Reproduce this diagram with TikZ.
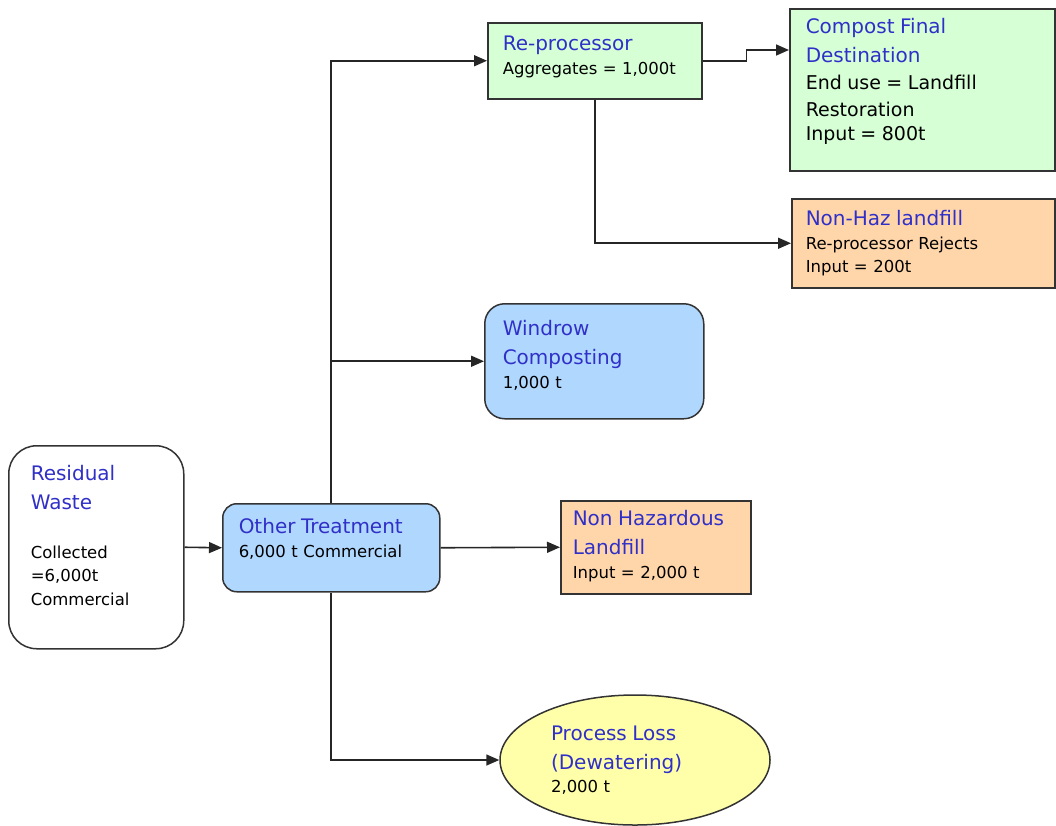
\documentclass[tikz,border=0pt]{standalone}
\usepackage{fontspec}
\setmainfont{DejaVu Sans}
\usetikzlibrary{shapes.geometric, arrows.meta, positioning, calc}
\definecolor{ttlblue}{RGB}{48,48,200}
\definecolor{boxgreen}{RGB}{214,255,214}
\definecolor{boxblue}{RGB}{176,216,255}
\definecolor{boxpeach}{RGB}{255,214,170}
\definecolor{boxyellow}{RGB}{255,255,170}
\newcommand{\ttl}[1]{{\fontsize{20}{29}\selectfont\leavevmode\color{ttlblue}#1\par}}
\newcommand{\bigbody}{\fontsize{19}{27}\selectfont}

\begin{document}
\begin{tikzpicture}[
			x=1pt, y=-1pt,
			box/.style={
					rectangle, draw=black!80, line width=1.5pt, anchor=north west,
					align=left, inner ysep=8pt, font=\fontsize{16.5}{23.5}\selectfont
				},
			lossbox/.style={
					ellipse, draw=black!80, line width=1.5pt, fill=boxyellow, inner sep=0pt,
					align=left, font=\fontsize{16.5}{23.5}\selectfont
				},
			flow/.style={draw=black!85, line width=1.6pt, -{Triangle[length=13pt,width=11pt]}}
		]
		\useasboundingbox (0,0) rectangle (1056,825);

		% Source and main treatment
		\node[box, rounded corners=28pt, fill=white, inner xsep=22pt, text width=131pt, text height=27pt, text depth=160pt] (resid) at (8,445) {
			\ttl{Residual\\Waste}\vspace{25pt}
			Collected\\=6,000t\\Commercial
		};
		\node[box, rounded corners=14pt, fill=boxblue, inner xsep=16pt, text width=185pt, text height=22pt, text depth=50pt] (other) at (222,503) {
			\ttl{Other Treatment}
			6,000 t Commercial
		};

		% Outputs of the treatment
		\node[box, fill=boxgreen, inner xsep=15pt, text width=184pt, text height=20pt, text depth=40pt] (repro) at (487,22) {
			\ttl{Re-processor}
			Aggregates = 1,000t
		};
		\node[box, rounded corners=20pt, fill=boxblue, inner xsep=18pt, text width=183pt, text height=24pt, text depth=75pt] (windrow) at (484,303) {
			\ttl{Windrow\\Composting}
			1,000 t
		};
		\node[box, fill=boxpeach, inner xsep=12pt, text width=166pt, text height=17pt, text depth=60pt] (nhl) at (560,500) {
			\ttl{Non Hazardous\\Landfill}
			Input = 2,000 t
		};
		\node[lossbox, minimum width=270pt, minimum height=130pt, text width=168pt] (loss) at (635,760) {
			\ttl{Process Loss\\(Dewatering)}
			2,000 t
		};

		% Destinations of the re-processor
		\node[box, fill=boxgreen, inner xsep=16pt, text width=233pt, text height=17pt, text depth=129pt] (compost) at (789,8) {
			\ttl{Compost Final\\Destination}
			\bigbody End use = Landfill\\Restoration\\Input = 800t
		};
		\node[box, fill=boxpeach, inner xsep=14pt, text width=235pt, text height=19pt, text depth=54pt] (nonhaz) at (791,198) {
			\ttl{Non-Haz landfill}
			Re-processor Rejects\\Input = 200t
		};

		% Connectors
		\draw[flow] (resid.east) -- (other.west);
		\draw[flow] (other.north) |- (repro.west);
		\draw[flow] (other.north |- windrow.west) -- (windrow.west);
		\draw[flow] (other.east) -- (nhl.west);
		\draw[flow] (other.south) |- (loss.west);
		\draw[flow] (repro.east) -- ++(44,0) |- ([yshift=-42pt]compost.north west);
		\draw[flow] (repro.south) |- (nonhaz.west);

	\end{tikzpicture}
\end{document}
